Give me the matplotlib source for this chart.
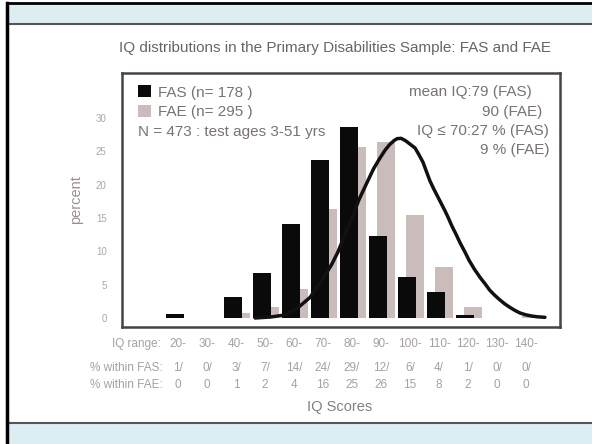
import numpy as np
import matplotlib.pyplot as plt
from matplotlib.patches import Rectangle

plt.rcParams['font.family'] = ['Liberation Sans', 'DejaVu Sans']

# datos
rangos = ['20-', '30-', '40-', '50-', '60-', '70-', '80-', '90-',
          '100-', '110-', '120-', '130-', '140-']
fas = [0.6, 0, 3.2, 6.7, 14.1, 23.7, 28.6, 12.3, 6.1, 3.9, 0.4, 0, 0]
fae = [0, 0, 0.7, 1.6, 4.4, 16.3, 25.6, 26.4, 15.4, 7.7, 1.7, 0, 0.3]
tabla_fas = ['1/', '0/', '3/', '7/', '14/', '24/', '29/', '12/', '6/', '4/', '1/', '0/', '0/']
tabla_fae = ['0', '0', '1', '2', '4', '16', '25', '26', '15', '8', '2', '0', '0']

# curva normal de referencia (puntos leidos, en unidades de categoria)
curva_x = [2.76, 3.3, 3.79, 4.2, 4.66, 5.1, 5.4, 5.62, 5.85, 6.1, 6.35, 6.62,
           6.85, 7.07, 7.25, 7.4, 7.55, 7.66, 7.8, 7.95, 8.1, 8.28, 8.4,
           8.55, 8.67, 8.79, 8.92, 9.05, 9.18, 9.31, 9.43, 9.55, 9.7, 9.83,
           10.0, 10.15, 10.33, 10.52, 10.7, 10.85, 11.03, 11.21, 11.38,
           11.55, 11.72, 11.9, 12.1, 12.3, 12.5, 12.76]
curva_y = [0.0, 0.15, 0.45, 1.4, 3.1, 5.9, 8.0, 9.9, 12.4, 15.0, 17.8, 20.3,
           22.4, 24.0, 25.2, 26.0, 26.6, 26.9, 26.95, 26.6, 26.1, 25.5, 24.6,
           23.4, 22.0, 20.6, 19.4, 18.3, 17.2, 16.1, 15.0, 13.8, 12.5, 11.3,
           9.9, 8.6, 7.3, 6.1, 5.1, 4.2, 3.4, 2.7, 2.1,
           1.6, 1.15, 0.75, 0.48, 0.3, 0.18, 0.1]

W, H = 592, 444


def px(x, y):
    return x / W, 1 - y / H


fig = plt.figure(figsize=(W / 100, H / 100), dpi=100)
fig.patch.set_facecolor('white')

# marco de la diapositiva
azul = '#ddeef2'
fig.add_artist(Rectangle(px(7, 24), (W - 7) / W, 21 / H, transform=fig.transFigure,
                         facecolor=azul, edgecolor='none', zorder=0))
fig.add_artist(Rectangle(px(7, 444), (W - 7) / W, 21 / H, transform=fig.transFigure,
                         facecolor=azul, edgecolor='none', zorder=0))
fig.add_artist(plt.Line2D([7 / W, 1], [1 - 3.5 / H] * 2, transform=fig.transFigure,
                          color='black', lw=2))
fig.add_artist(plt.Line2D([7 / W, 1], [1 - 24 / H] * 2, transform=fig.transFigure,
                          color='#555555', lw=1.5))
fig.add_artist(plt.Line2D([7 / W, 1], [1 - 423 / H] * 2, transform=fig.transFigure,
                          color='#555555', lw=1.5))
fig.add_artist(plt.Line2D([7 / W] * 2, [0, 1 - 3 / H], transform=fig.transFigure,
                          color='black', lw=2.5))

ax = fig.add_axes([122 / W, 1 - 327 / H, 438 / W, 254 / H])
x = np.arange(len(rangos))
ax.bar(x + 0.28, fae, width=0.62, color='#cbbcbc', zorder=1, label='FAE (n= 295 )')
ax.bar(x, fas, width=0.6, color='#0a0a0a', zorder=2, label='FAS (n= 178 )')
ax.plot(curva_x, curva_y, color='#111111', lw=2.5, zorder=3, solid_capstyle='round')

ax.set_xlim(-1.83, 13.28)
ax.set_ylim(-1.35, 36.75)
ax.set_xticks([])
ax.set_yticks([0, 5, 10, 15, 20, 25, 30])
ax.tick_params(axis='y', length=0, pad=11, labelsize=7, labelcolor='#b0a6a6')
for s in ax.spines.values():
    s.set_color('#4a4242')
    s.set_linewidth(1.8)
ax.set_ylabel('percent', fontsize=10.5, color='#9a9090', labelpad=9)

gris = '#7a7272'
h, l = ax.get_legend_handles_labels()
ax.legend(h[::-1], l[::-1], loc='upper left', bbox_to_anchor=(0.008, 1.0), frameon=False,
          handlelength=0.85, handleheight=0.85, handletextpad=0.45, labelspacing=0.33,
          fontsize=11, labelcolor=gris, borderaxespad=0.4)
fig.text(*px(138, 132), 'N = 473 : test ages 3-51 yrs',
         fontsize=11, color=gris, va='center', ha='left')

fig.text(*px(532, 92), 'mean IQ:79 (FAS)', ha='right', va='center', fontsize=11, color=gris)
fig.text(*px(542, 112), '90 (FAE)', ha='right', va='center', fontsize=11, color=gris)
fig.text(*px(549, 131), 'IQ ≤ 70:27 % (FAS)', ha='right', va='center', fontsize=11, color=gris)
fig.text(*px(549, 150), '9 % (FAE)', ha='right', va='center', fontsize=11, color=gris)

fig.text(*px(335, 48), 'IQ distributions in the Primary Disabilities Sample: FAS and FAE',
         ha='center', va='center', fontsize=11, color='#666666')

# tabla inferior
claro = '#a8a0a0'
fig.text(*px(161, 344), 'IQ range:', ha='right', va='center', fontsize=8.5, color=claro)
fig.text(*px(163, 368), '% within FAS:', ha='right', va='center', fontsize=8.5, color=claro)
fig.text(*px(163, 385), '% within FAE:', ha='right', va='center', fontsize=8.5, color=claro)
for i in range(len(rangos)):
    cx = 178 + 29 * i
    fig.text(*px(cx, 344), rangos[i], ha='center', va='center', fontsize=8.5, color=claro)
    fig.text(*px(cx, 368), tabla_fas[i], ha='center', va='center', fontsize=8.5, color=claro)
    fig.text(*px(cx, 385), tabla_fae[i], ha='center', va='center', fontsize=8.5, color=claro)
fig.text(*px(340, 407), 'IQ Scores', ha='center', va='center', fontsize=10.5, color='#808080')

fig.savefig('out.png', dpi=100)
